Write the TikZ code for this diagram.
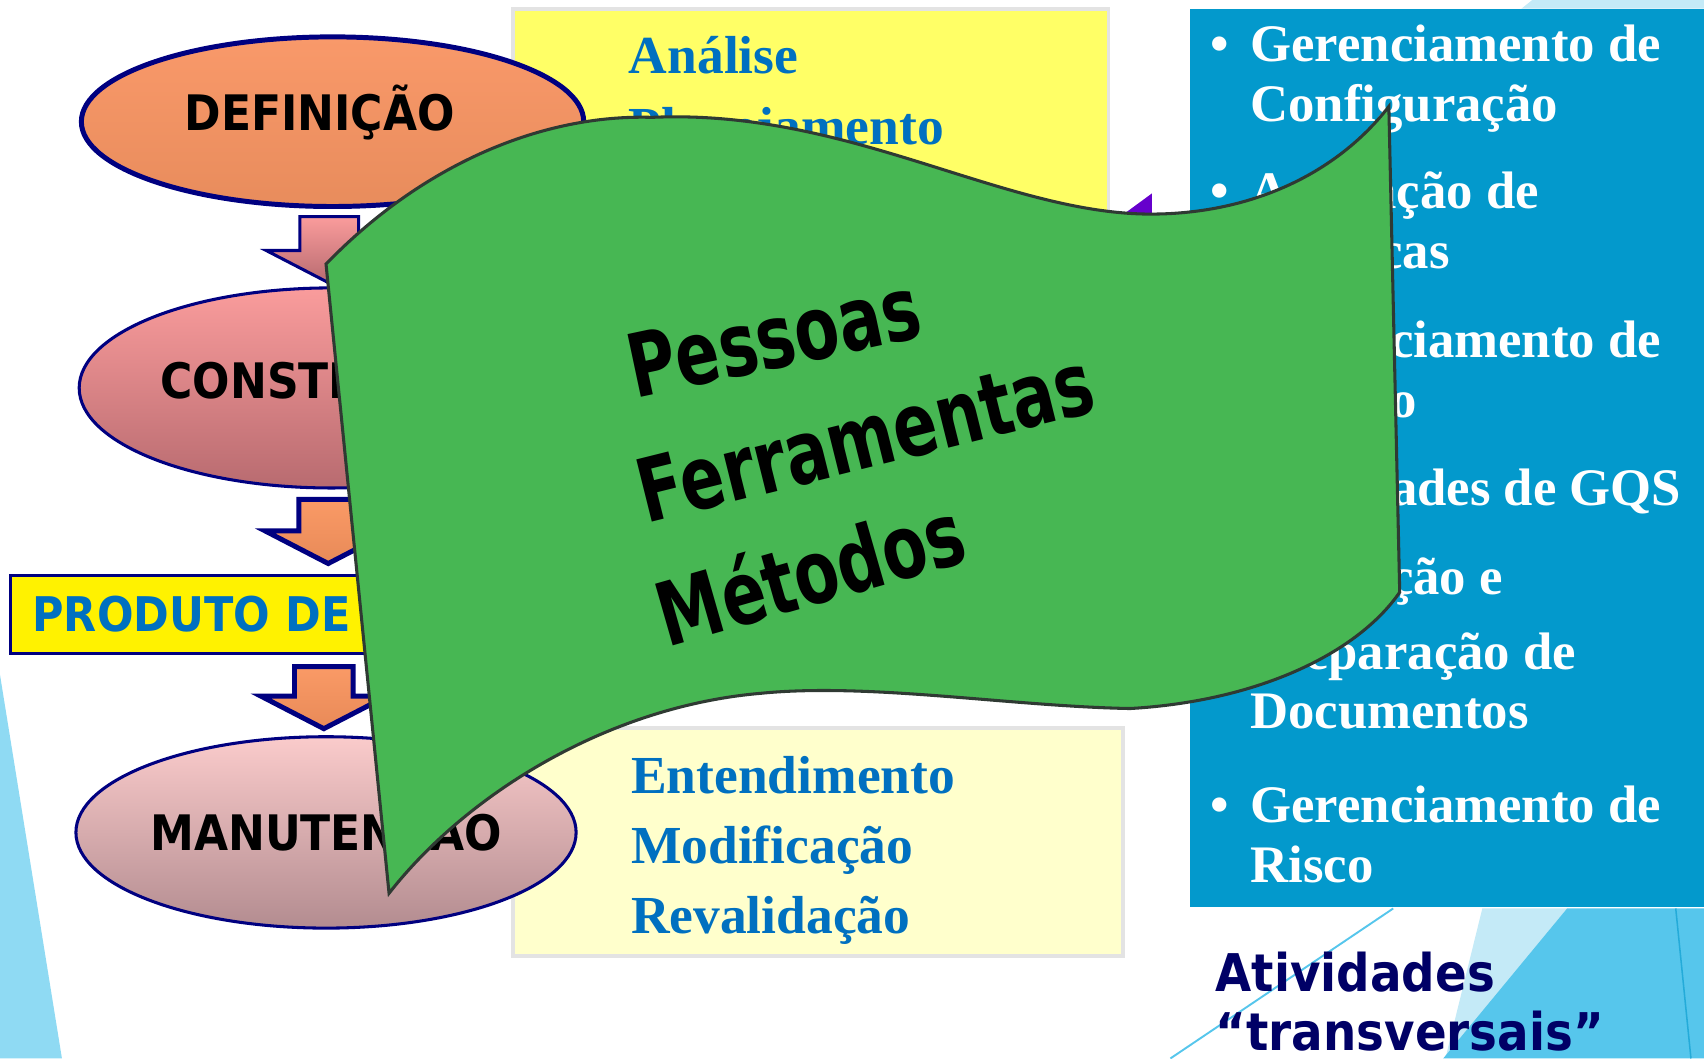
\documentclass[tikz,border=0pt]{standalone}
\usepackage{fontspec}
\usepackage{tikz}
\usetikzlibrary{shapes.geometric}
\usetikzlibrary{calc}
\newfontfamily\phasefont{DejaVu Sans}[FakeStretch=0.9]
\newfontfamily\slideserif{Liberation Serif}
\newfontfamily\flagfont{DejaVu Sans}[FakeStretch=0.74]
\definecolor{navy}{HTML}{000080}
\definecolor{textblue}{HTML}{0070C0}
\definecolor{darknavy}{HTML}{000066}
\definecolor{yellowtop}{HTML}{FFFF66}
\definecolor{yellowlow}{HTML}{FFFFCC}
\definecolor{boxgray}{HTML}{E3E3E3}
\definecolor{slideblue}{HTML}{0399CC}
\definecolor{flaggreen}{HTML}{47B753}
\definecolor{flagline}{HTML}{2F3A33}
\definecolor{violet}{HTML}{6600CC}
\definecolor{skyleft}{HTML}{8FDAF3}
\definecolor{skypale}{HTML}{C4EAF7}
\definecolor{skymid}{HTML}{56C6EC}
\definecolor{definA}{HTML}{F9996A}
\definecolor{definB}{HTML}{E88C5C}
\definecolor{constrA}{HTML}{FA9C9C}
\definecolor{constrB}{HTML}{B86B70}
\definecolor{manutA}{HTML}{FACBCB}
\definecolor{manutB}{HTML}{B38C90}
\definecolor{orangeA}{HTML}{FA9A66}
\definecolor{orangeB}{HTML}{E88A58}

\tikzset{
  phase/.style={ellipse, draw=navy, line width=0.8pt, inner sep=0pt,
    font=\phasefont\bfseries\fontsize{12.8}{14}\selectfont},
  blockarrow/.style={draw=navy, line width=1.3pt, line join=miter},
  graybox/.style={draw=boxgray, line width=1pt},
  yellowtext/.style={anchor=base west, inner sep=0pt, text=textblue,
    font=\slideserif\bfseries\fontsize{14}{18.4}\selectfont},
  bluetext/.style={anchor=base west, inner sep=0pt, text=white,
    font=\slideserif\bfseries\fontsize{13.8}{15.6}\selectfont},
  prodbox/.style={draw=navy, line width=0.8pt, fill=yellow, minimum height=0.71cm,
    text width=4.7cm, inner xsep=0.2cm, align=left, text=textblue,
    font=\phasefont\bfseries\fontsize{12.5}{14}\selectfont},
  flag/.style={fill=flaggreen, draw=flagline, line width=0.8pt},
  flagword/.style={inner sep=0pt, font=\flagfont\bfseries\fontsize{23}{26}\selectfont}
}
\newcommand{\blockarrow}[3]{%
  \draw[blockarrow,#1] ($(#2)+(-27,0)$) -- ($(#2)+(27,0)$) |- ($(#3)+(58,-30)$)
    -- (#3) -- ($(#3)+(-58,-30)$) -| ($(#2)+(-27,0)$) -- cycle;}
\newcommand{\bul}{\makebox[10.5pt][l]{•}}

\begin{document}
\begin{tikzpicture}[x=0.01cm, y=-0.01cm]
\useasboundingbox (0,0) rectangle (1568,974);
% background strips
\fill[skyleft] (0,621) -- (57,974) -- (0,974) -- cycle;
\fill[skypale] (1410,0) -- (1568,0) -- (1568,8) -- (1400,8) -- cycle;
\fill[skypale] (1364,836) -- (1442,836) -- (1330,974) -- cycle;
\fill[skymid] (1442,836) -- (1568,836) -- (1568,974) -- (1328,974) -- cycle;
\draw[skymid, line width=0.5pt] (1282,836) -- (1077,974);
\draw[slideblue!60!skymid, line width=0.4pt] (1542,836) -- (1556,974);

% activity boxes
\draw[graybox, fill=yellowtop] (472,8) rectangle (1020,560);
\node[yellowtext] (plan) at (578,68) {\begin{tabular}[t]{@{}l@{}}Análise\\Planejamento\end{tabular}};
\draw[graybox, fill=yellowlow] (472,670) rectangle (1033,880);
\node[yellowtext] (manutacts) at (580,730) {\begin{tabular}[t]{@{}l@{}}Entendimento\\Modificação\\Revalidação\end{tabular}};

% transversal activities
\fill[slideblue] (1095,8) rectangle (1568,835);
\fill[violet] (1030,200) -- (1060,178) -- (1060,215) -- cycle;
\node[bluetext] (gconf) at (1113,57) {\begin{tabular}[t]{@{}l@{}l@{}}\bul & Gerenciamento de\\ & Configuração\end{tabular}};
\node[bluetext] (metr) at (1113,192) {\begin{tabular}[t]{@{}l@{}l@{}}\bul & Aplicação de\\ & Métricas\end{tabular}};
\node[bluetext] (gproj) at (1113,329) {\begin{tabular}[t]{@{}l@{}l@{}}\bul & Gerenciamento de\\ & Projeto\end{tabular}};
\node[bluetext] (gqs) at (1113,465) {\begin{tabular}[t]{@{}l@{}l@{}}\bul & Atividades de GQS\end{tabular}};
\node[bluetext] (docs) at (1113,547) {\begin{tabular}[t]{@{}l@{}l@{}}\bul & Produção e\\[4pt] & Preparação de\\ & Documentos\end{tabular}};
\node[bluetext] (risco) at (1113,757) {\begin{tabular}[t]{@{}l@{}l@{}}\bul & Gerenciamento de\\ & Risco\end{tabular}};
\node[anchor=base west, inner sep=0pt, text=darknavy, font=\phasefont\bfseries\fontsize{13.6}{15.6}\selectfont]
  (transv) at (1118,912) {\begin{tabular}[t]{@{}l@{}}Atividades\\“transversais”\end{tabular}};

% phases
\node[phase, line width=1.3pt, minimum width=4.62cm, minimum height=1.56cm,
  top color=definA, bottom color=definB] (defin) at (306,112) {\raisebox{-2.35pt}[0pt][0pt]{DEFINIÇÃO}\hspace*{6.8pt}};
\node[phase, minimum width=4.64cm, minimum height=1.84cm,
  top color=constrA, bottom color=constrB] (constr) at (305,357) {\raisebox{-2.65pt}[0pt][0pt]{CONSTRUÇÃO}};
\node[prodbox] (produto) at (265,565.5) {PRODUTO DE};
\node[phase, minimum width=4.6cm, minimum height=1.76cm,
  top color=manutA, bottom color=manutB] (manut) at (300,766) {MANUTENÇÃO};

\coordinate (a1top) at ($(defin.south)+(-3,7)$);
\coordinate (a1tip) at ($(constr.north)+(-2,-3)$);
\coordinate (a2top) at ($(constr.south)+(-3,9)$);
\coordinate (a2tip) at ($(constr.south |- produto.north)+(-3,-10)$);
\coordinate (a3top) at ($(manut.north |- produto.south)+(-2,11)$);
\coordinate (a3tip) at ($(manut.north)+(-2,-6)$);
\blockarrow{line width=0.8pt, top color=constrA, bottom color=constrB}{a1top}{a1tip}
\blockarrow{top color=orangeA, bottom color=orangeB}{a2top}{a2tip}
\blockarrow{top color=orangeA, bottom color=orangeB}{a3top}{a3tip}

% banner
\draw[flag] (300,243) .. controls (390,150) and (500,105) .. (600,108)
  .. controls (780,100) and (920,195) .. (1055,197)
  .. controls (1150,198) and (1230,160) .. (1278,98)
  -- (1288,545)
  .. controls (1250,600) and (1160,645) .. (1040,652)
  .. controls (930,650) and (800,628) .. (700,638)
  .. controls (560,650) and (430,730) .. (358,822)
  -- cycle;
\node[flagword, rotate=12] (pessoas) at (712,310) {Pessoas};
\node[flagword, rotate=14] (ferram) at (796,402) {Ferramentas};
\node[flagword, rotate=16] (metodos) at (745,525) {Métodos};
\end{tikzpicture}
\end{document}
